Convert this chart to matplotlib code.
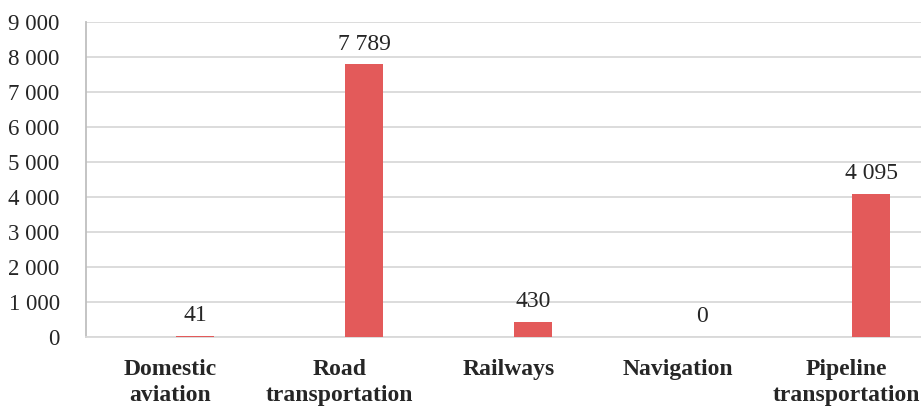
import numpy as np
import matplotlib
matplotlib.use("Agg")
import matplotlib.pyplot as plt
from matplotlib.ticker import FuncFormatter

# data
categories = ["Domestic\naviation", "Road\ntransportation", "Railways", "Navigation", "Pipeline\ntransportation"]
values = [41, 7789, 430, 0, 4095]
yticks = [0, 1000, 2000, 3000, 4000, 5000, 6000, 7000, 8000, 9000]

def fmt(v, pos=None):
    return "{:,}".format(int(v)).replace(",", " ")

plt.rcParams['font.family'] = ['Liberation Serif', 'DejaVu Serif']

fig = plt.figure(figsize=(9.21, 4.07), dpi=100)
ax = fig.add_axes([0.0934, 0.172, 0.9175, 0.774])

x = np.arange(len(categories))
bars = ax.bar(x + 0.145, values, width=0.225, color="#E35A5A", zorder=3)
ax.bar_label(bars, labels=[fmt(v) for v in values], padding=7, fontsize=17, color="#262626")

ax.set_xlim(-0.5, len(categories) - 0.5)
ax.set_ylim(0, 9000)
ax.set_yticks(yticks)
ax.yaxis.set_major_formatter(FuncFormatter(fmt))
ax.set_xticks(x)
ax.set_xticklabels(categories, fontweight="bold", fontsize=17, color="#262626", linespacing=1.3)

ax.tick_params(axis="y", length=0, pad=19, labelsize=16.5, labelcolor="#262626")
ax.tick_params(axis="x", length=0, pad=16)

ax.grid(axis="y", color="#D9D9D9", linewidth=1.3, zorder=0)
for s in ["top", "right"]:
    ax.spines[s].set_visible(False)
ax.spines["left"].set_color("#BFBFBF")
ax.spines["left"].set_linewidth(1.3)
ax.spines["bottom"].set_color("#D9D9D9")
ax.spines["bottom"].set_linewidth(1.3)

fig.savefig("out.png", dpi=100)
